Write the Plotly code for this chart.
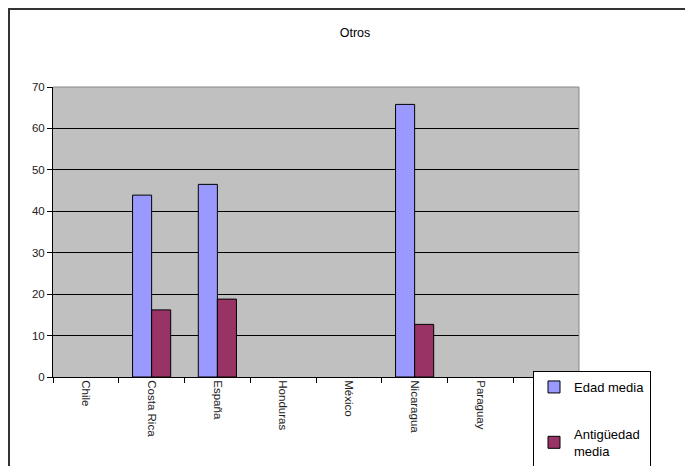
import plotly.graph_objects as go

categories = ["Chile", "Costa Rica", "España", "Honduras", "México", "Nicaragua", "Paraguay", "República<br>Dominicana"]
edad_media = [None, 43.9, 46.5, None, None, 65.8, None, None]
antiguedad_media = [None, 16.2, 18.8, None, None, 12.7, None, None]
y_ticks = [0, 10, 20, 30, 40, 50, 60, 70]

W, H = 693, 466
OFF = 8  # page body margin offset
L, R, T, B = 53 - OFF, 579 - OFF, 87 - OFF, 377 - OFF

fig = go.Figure()
fig.add_trace(go.Bar(x=categories, y=edad_media, name="Edad media",
                     marker=dict(color="#9999FF", line=dict(color="black", width=1)),
                     legendgroup="a"))
fig.add_trace(go.Bar(x=categories, y=antiguedad_media, name="Antigüedad<br>media",
                     marker=dict(color="#993366", line=dict(color="black", width=1)),
                     legendgroup="b"))

pw = R - L
ph = B - T
def px_x(p):
    return (p - OFF - L) / pw
def px_y(p):
    return (B - (p - OFF)) / ph

fig.update_layout(
    width=W, height=H,
    margin=dict(l=L, r=W - R, t=T, b=H - B, autoexpand=False),
    paper_bgcolor="white",
    plot_bgcolor="#C0C0C0",
    barmode="group",
    bargap=0.42,
    bargroupgap=0,
    font=dict(family="Arial, Liberation Sans, sans-serif", size=11, color="black"),
    title=dict(text="Otros", x=(355 - OFF) / W, xref="container", xanchor="center",
               y=1 - (33 - OFF) / H, yref="container", yanchor="middle",
               font=dict(size=12.5, color="black")),
    showlegend=True,
    legend=dict(x=px_x(533), y=px_y(371), xanchor="left", yanchor="top",
                bgcolor="white", bordercolor="black", borderwidth=1,
                font=dict(size=13, color="black"),
                tracegroupgap=27, itemwidth=30,
                entrywidth=110, entrywidthmode="pixels"),
    xaxis=dict(type="category", showgrid=False, ticks="outside", tickson="boundaries",
               ticklen=5, tickcolor="black", tickangle=90, showline=True,
               linecolor="black", linewidth=1, tickfont=dict(size=11.5, color="#222")),
    yaxis=dict(range=[0, 70], tickvals=y_ticks, showgrid=True, gridcolor="black",
               gridwidth=1, ticks="outside", ticklen=5, tickcolor="black",
               showline=True, linecolor="black", linewidth=1, zeroline=False,
               tickfont=dict(size=11.5, color="#222")),
    shapes=[
        dict(type="rect", xref="paper", yref="paper",
             x0=px_x(9), x1=px_x(740), y0=px_y(520), y1=px_y(9),
             line=dict(color="#333", width=2), fillcolor="rgba(0,0,0,0)", layer="below"),
        dict(type="line", xref="paper", yref="paper",
             x0=0, x1=1, y0=1, y1=1, line=dict(color="#888", width=1)),
        dict(type="line", xref="paper", yref="paper",
             x0=1, x1=1, y0=0, y1=1, line=dict(color="#888", width=1)),
    ],
)

fig.write_html("out.html")
